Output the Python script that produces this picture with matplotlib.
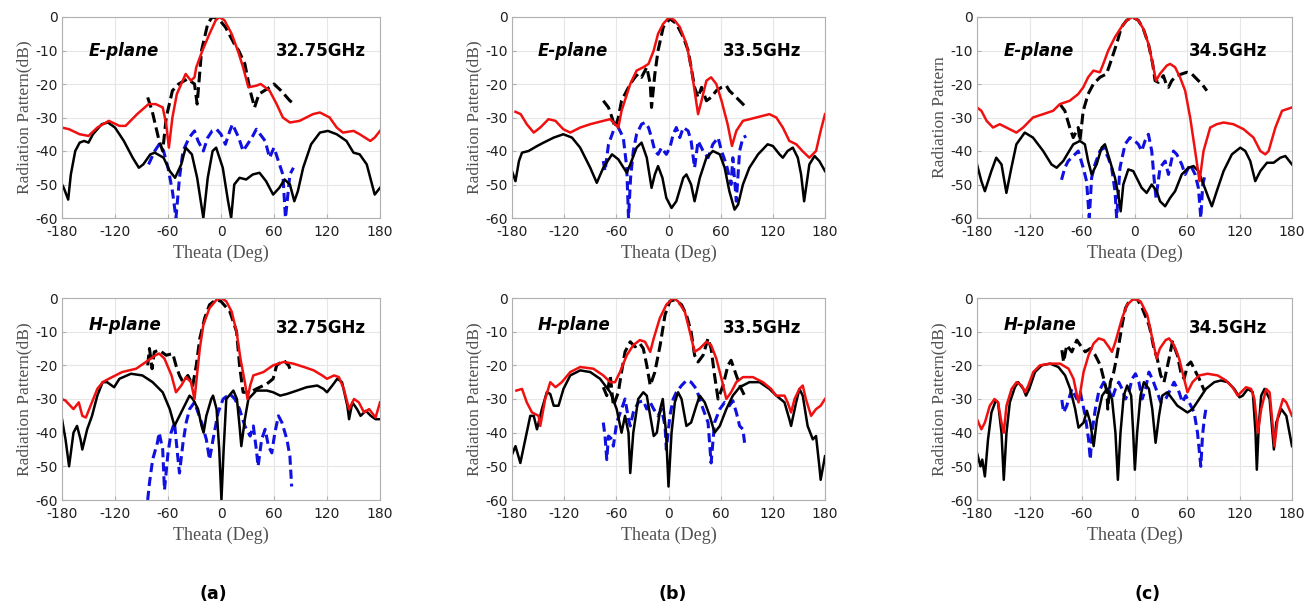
import numpy as np
import matplotlib
matplotlib.use("Agg")
from matplotlib import pyplot as plt

plt.rcParams["axes.unicode_minus"] = False

# (theta [deg], level [dB]), one list per curve
# panel (a) 32.75 GHz
a_e_red = [(-180,-33),(-172,-33.5),(-160,-35),(-150,-35.5),(-140,-33),(-127,-31),(-115,-32.5),(-108,-32.5),(-95,-29),(-82,-26),(-74,-26),(-66,-27),(-62,-32),(-59,-39),(-55,-30),(-50,-23),(-45,-20),(-40,-17),(-34,-19),(-30,-18),(-28,-15),(-21,-10),(-13,-5),(-6,-1),(-2,0),(4,-1),(12,-5),(19,-10),(25,-15),(31,-21),(40,-20.5),(45,-20),(55,-22),(63,-26),(70,-30),(78,-31.5),(89,-31),(104,-29),(112,-28.5),(123,-30),(131,-33),(138,-34.5),(150,-34),(157,-35),(169,-37),(174,-36),(180,-34)]
a_e_blk = [(-180,-50),(-178,-51),(-173,-54.5),(-170,-47),(-165,-40),(-160,-37.5),(-155,-37),(-150,-37.5),(-145,-35),(-135,-32),(-128,-31.5),(-120,-33),(-110,-37),(-100,-42),(-93,-45),(-88,-44),(-80,-41),(-75,-40.5),(-65,-42),(-58,-46),(-52,-48),(-45,-44),(-40,-39),(-33,-41),(-27,-48),(-20,-60),(-15,-48),(-9.5,-40),(-5.5,-39),(2,-45),(8,-55),(11.5,-60),(15,-50),(21,-48),(28.5,-48.5),(36,-47),(43.6,-46.5),(51,-49),(59,-53),(66,-51),(72,-48.5),(78,-50),(83,-55),(87,-52),(93,-45),(102,-38),(112,-34.5),(121,-34),(131,-35),(142,-37),(150,-40.5),(157,-41),(165,-44),(171,-50),(174,-53),(180,-51)]
a_e_dash = [(-83,-24),(-78,-28),(-70,-37),(-66,-40),(-62,-30),(-55,-22),(-48,-20),(-38,-18.5),(-30,-20),(-27,-26),(-22,-10),(-15,-2),(-10,0),(-3,-0.5),(5,-3),(15,-8),(20,-10),(27,-14),(33,-22),(38,-27),(43,-23),(55,-21),(60,-20),(68,-22),(78,-25),(83,-26)]
a_e_blue = [(-82,-44),(-75,-40),(-70,-38),(-65,-40),(-60,-45),(-55,-52),(-51,-60),(-47,-48),(-43,-40),(-36,-36),(-30,-34),(-26,-37),(-20,-40),(-15,-36),(-10,-34),(-5,-33.5),(0,-35),(5,-38),(10,-34),(13,-32),(20,-36),(25,-40),(30,-38),(35,-36),(40,-33.5),(50,-37),(55,-42),(60,-39),(65,-43),(70,-47),(73,-60),(78,-47),(82,-45)]

a_h_red = [(-180,-30),(-176,-30.5),(-167,-33),(-161,-31),(-157,-35),(-153,-35.5),(-140,-27),(-134,-25),(-127,-24),(-112,-22),(-96,-21),(-85,-19),(-74,-17),(-70,-16.5),(-64,-18),(-56,-23),(-51,-28),(-45,-26),(-39.5,-23.5),(-34,-25),(-30,-30),(-28,-25),(-24,-15),(-20,-8),(-13,-3),(-5,-0.5),(0.5,0),(6,-1),(12,-4),(17.6,-10),(22,-18),(27,-25),(30,-30),(33,-26),(36.6,-23),(48,-22),(59,-20),(71,-19),(82,-19.5),(94,-20.5),(105,-21.5),(114.5,-23),(120,-24),(128,-23),(133.5,-23.5),(139,-27),(145,-33),(150.6,-30),(156,-31),(162,-34),(167.7,-33),(175,-35.5),(180,-31)]
a_h_blk = [(-180,-36),(-176,-42),(-172,-50),(-167,-40),(-163,-38),(-159,-42),(-157,-45),(-151.5,-39),(-146,-35),(-140,-29),(-134,-25),(-129,-25),(-121,-26.5),(-115,-24),(-102,-22.5),(-89,-23),(-77.4,-25),(-66,-28),(-58,-33),(-52.7,-38),(-47,-35),(-39.4,-31),(-35.6,-29),(-31.8,-30),(-26,-33),(-22,-38),(-19.7,-40),(-16.6,-35),(-11,-30),(-9,-29),(-5,-33),(-2,-45),(0.5,-60),(3,-45),(6,-30),(14,-27.5),(18,-30),(21,-38),(23,-44),(27,-36),(31,-30),(40,-27.5),(52,-27.5),(59,-28),(67,-29),(74.6,-28.5),(86,-27.5),(97,-26.5),(109,-26),(116,-27),(120,-28),(126,-26),(131.6,-24),(137,-25),(143,-32),(145,-36),(148.7,-31),(154,-33),(158,-35),(164,-33.5),(169.6,-35),(175,-36),(180,-36)]
a_h_dash = [(-83,-20),(-81,-15),(-78,-21),(-75.5,-16),(-70,-15.5),(-62,-17),(-54.6,-16.5),(-51,-20),(-47,-23),(-43,-25),(-37.5,-23),(-32,-26),(-28,-20),(-24,-12),(-18.5,-6),(-13,-2),(-5.6,-0.5),(0,-1),(10,-4),(17.6,-10),(21,-20),(25,-28),(33,-28),(40,-27),(48,-26),(52,-25.5),(59,-24),(63,-20),(71,-18.5),(76.5,-20),(78,-21)]
a_h_blue = [(-83,-60),(-81,-55),(-77.4,-48),(-72,-43),(-70,-40),(-66,-45),(-64,-57),(-60,-46),(-56.5,-40),(-52.7,-37),(-49,-47),(-47,-52),(-43,-43),(-39.4,-37),(-35.6,-33),(-30,-31),(-26,-34),(-22,-37),(-16.6,-42),(-13,-48),(-9,-42),(-3.3,-34),(2.4,-30),(10,-28.5),(15.7,-30),(21,-33),(27,-38),(33,-41),(36.6,-38),(40,-45),(42,-50),(46,-42),(50,-39),(53.7,-44),(57.5,-46),(61,-40),(65,-35),(69,-37),(74.6,-42),(78,-47),(80,-56)]

# panel (b) 33.5 GHz
b_e_red = [(-176,-28.3),(-170,-29),(-163,-32),(-155,-34.5),(-147.5,-33),(-138,-30.5),(-130,-31),(-121,-33.5),(-113,-34.5),(-101.6,-33),(-90,-32),(-75,-31),(-67,-30.5),(-61.5,-32),(-57.7,-33),(-54,-28),(-44,-20),(-36.7,-16),(-29,-15),(-23,-14),(-17,-10),(-12,-5),(-6,-2),(1,0),(7,-1),(13,-3),(20.6,-8),(26,-15),(30,-22),(34,-29),(38,-25),(43.6,-19),(49,-18),(55,-20),(61,-25),(68,-32),(73,-38.5),(78,-34),(85.6,-31),(101,-30),(116,-29),(124,-30),(131.5,-33),(139,-37),(147,-38),(154,-40),(162,-42),(169.7,-40),(175,-34),(180,-29)]
b_e_blk = [(-180,-46),(-176,-49),(-172,-43),(-168.5,-40.5),(-161,-40),(-151,-38.5),(-143.7,-37.5),(-132,-36),(-121,-35),(-111,-36),(-101.6,-39),(-90,-45),(-82.5,-49.5),(-75,-45),(-65,-41),(-57.7,-42.5),(-48,-46.5),(-44,-44),(-36.7,-39),(-31,-37.5),(-25,-42),(-19.5,-51),(-15.7,-47),(-12,-44.5),(-7,-48),(-2.5,-54),(3.5,-57),(9,-55),(17,-48),(20.6,-47),(26,-50),(30,-55),(36,-48),(43.6,-42),(51,-40),(59,-41),(64.6,-45),(70,-52),(76,-57.5),(80,-56),(85.6,-50),(93,-45),(103,-41),(114,-38),(120,-38.5),(127.7,-41),(131.5,-42),(137,-40),(143,-39),(148.7,-42),(152.5,-47),(156,-55),(162,-44),(168,-41.5),(173.5,-43),(180,-46)]
b_e_dash = [(-75,-25),(-69,-27),(-65,-30),(-61.5,-33),(-57.7,-30),(-54,-25),(-48,-22),(-44,-20),(-38.6,-18),(-35,-17),(-31,-18),(-25,-15),(-21,-20),(-19.5,-27),(-15.7,-17),(-12,-10),(-6,-3),(1.6,-0.5),(9,-2),(17,-6),(22.6,-10),(26,-15),(30,-21),(34,-24),(38,-21),(43.6,-25),(49,-24),(55,-22),(61,-21),(66.5,-20.5),(70,-22),(78,-24),(87.5,-26.5)]
b_e_blue = [(-75,-43),(-73,-46),(-69,-38),(-63.4,-34),(-57.7,-33),(-52,-36),(-48,-45),(-46,-60),(-43.6,-48),(-40.5,-40),(-36.7,-35),(-31,-32),(-27,-31.5),(-23,-33),(-19.5,-36),(-15.7,-40),(-12,-41),(-8,-39),(-2.5,-41),(1.6,-39),(5.4,-35),(9,-33),(13,-36),(17,-33),(22.6,-34),(26,-37),(30,-45),(34,-37),(39.8,-40),(45.5,-42),(51,-38),(57,-36),(61,-40),(66.5,-44),(72,-50),(74,-42),(78,-55),(81.8,-40),(85.6,-36),(89.5,-35.5)]

b_h_red = [(-175,-27.5),(-168.5,-27),(-163,-31),(-157,-34),(-149.4,-35),(-147.5,-38),(-141.8,-30),(-136,-25),(-130,-26.5),(-122.7,-25),(-113,-22),(-101.6,-20.5),(-86.4,-21),(-75,-23),(-67,-25),(-61.5,-25),(-55.8,-22),(-48,-17),(-40.5,-14),(-33,-12.5),(-27,-13),(-21,-16),(-17,-12),(-10,-6),(-2.5,-2),(5.4,0),(11,-1),(18.7,-4),(24.5,-10),(30,-16),(36,-15),(43.6,-13),(49,-14),(55,-18),(61,-24),(66.5,-30),(72,-28),(78,-25),(85.6,-23.5),(97,-23.5),(108.6,-25),(118,-27),(123.8,-29),(133.4,-29),(137,-31),(141,-34),(145,-30),(150.6,-27),(154.4,-26),(158,-30),(164,-35),(169.7,-33),(175,-32),(180,-30)]
b_h_blk = [(-180,-46.5),(-176,-44),(-170.4,-49),(-164.7,-42),(-159,-35),(-155,-35),(-151.3,-39),(-145.6,-33),(-140,-28),(-136,-28.5),(-132,-32),(-126.5,-32),(-120.8,-27),(-113,-23),(-101.6,-21.5),(-90,-22),(-78.7,-24),(-67,-28),(-59.6,-33),(-54,-40),(-50,-35),(-46,-40),(-44,-52),(-40.5,-40),(-34.8,-30),(-29,-28),(-25,-29),(-21,-35),(-17,-41),(-13.4,-40),(-9.6,-33),(-6.6,-30),(-2.8,-40),(0,-56),(3.5,-40),(7.3,-31),(11,-28),(15,-30),(20.6,-38),(26,-37),(32,-32),(36,-29),(41.7,-31),(47.4,-35),(53,-40),(59,-38),(66.5,-33),(74,-29),(81.8,-26.5),(93,-25),(104.7,-25),(116,-27),(124,-29),(133.4,-31),(139,-36),(141,-38),(146.8,-31),(150.6,-27),(154.4,-29),(160,-38),(166,-42),(169.7,-41),(173.5,-50),(175,-54),(180,-47)]
b_h_dash = [(-75,-26.5),(-71,-29),(-67,-23),(-63.4,-32),(-57.7,-28),(-54,-22),(-50,-16),(-44,-13),(-38.6,-14.5),(-33,-13.5),(-29,-15),(-25,-20),(-21,-26),(-15.7,-22),(-9.6,-14),(-4,-5),(1.5,-1),(7.3,-0.5),(15,-2),(20.6,-5),(26,-10),(30,-17),(34,-19),(39.8,-17),(45.5,-12),(49,-15),(53,-23),(57,-30),(62.7,-26),(68.4,-20),(72,-18.5),(78,-23),(83.7,-27),(89.4,-30)]
b_h_blue = [(-75,-37),(-73,-41),(-71,-48),(-69,-41),(-65,-42),(-63.4,-44),(-59.6,-37),(-54,-33),(-50,-30),(-46,-36),(-44,-38),(-40.5,-34),(-34.8,-31),(-29,-30.5),(-25,-33),(-21,-31),(-17,-33),(-12,-35),(-8,-33),(-4,-38),(-2.5,-45),(1.6,-35),(5.4,-30),(9,-28),(15,-26),(20.6,-24.5),(26,-25),(32,-27),(39.8,-33),(45.5,-37),(49,-49),(53,-37),(59,-33),(64.6,-31),(70,-32),(74,-30.5),(78,-34),(81.8,-38),(85.6,-39),(87.5,-43)]

# panel (c) 34.5 GHz
c_e_red = [(-180,-27),(-175,-28),(-169,-31),(-161.7,-33),(-154,-32),(-146.4,-33),(-135,-34.5),(-127.3,-33),(-116,-30),(-104.4,-29),(-93,-28),(-85.3,-26),(-74,-25),(-64.3,-23),(-58.6,-21),(-53,-18),(-47,-16),(-39.5,-16.5),(-35.7,-14),(-30,-10),(-22.3,-6),(-14.9,-3),(-9,-1),(-2.3,0),(4.4,-1),(10,-3.5),(15.9,-8),(20.8,-14),(24.6,-19),(29,-17),(36.9,-14.5),(40.7,-14),(46.4,-15),(52,-18),(57.9,-22),(63.6,-30),(69.3,-40),(74.3,-49),(78.9,-40),(86.5,-33),(94,-32),(101.8,-31.5),(113,-32),(124.7,-33.5),(136,-36),(143.8,-40),(149.5,-41),(153.3,-40),(161,-33),(168.6,-28),(180,-27)]
c_e_blk = [(-180,-44),(-175,-49),(-171,-52),(-163.6,-46),(-158,-42),(-152,-44),(-146.4,-52.5),(-140.7,-45),(-135,-38),(-125.4,-34.5),(-116,-36),(-104.4,-40),(-94.9,-44),(-89,-45),(-81.5,-43),(-70,-38),(-62.4,-37),(-56.7,-38),(-53,-43),(-49,-47),(-43.3,-44),(-37.6,-39),(-33.8,-38),(-28,-43),(-22.3,-48),(-18.5,-53),(-15.8,-58),(-12.8,-50),(-7.1,-45.5),(-1.4,-46),(2.4,-48),(8.2,-51),(13.9,-52.5),(19.7,-50),(25.4,-52),(29.2,-55),(35,-56.5),(40.7,-54),(46.4,-52),(54,-47),(61.7,-45),(67.4,-44.5),(73,-46),(78.9,-50),(84.6,-54),(88.4,-56.5),(94,-52),(101.8,-46),(111.3,-41),(120.9,-39),(126.6,-40),(132.3,-43),(138,-49),(143.8,-46),(151.4,-43.5),(159,-43.5),(166.7,-42),(172.4,-41.5),(180,-44)]
c_e_dash = [(-85.3,-26),(-79.6,-28),(-74,-33),(-70,-36),(-64.3,-33),(-62.4,-37),(-58.6,-28),(-53,-23),(-47,-20),(-39.5,-18),(-32,-17),(-28,-14),(-20.4,-8),(-14.9,-3),(-9,-1),(-2.3,0),(4.4,-1),(10,-3.5),(15.9,-8),(20.8,-14),(23.5,-19),(27.3,-19.5),(33,-17.5),(36.9,-20.5),(38.8,-21),(42.6,-19),(48.3,-17.5),(54,-17),(59.8,-16.5),(65.5,-17),(73,-19),(77,-20),(82.7,-22)]
c_e_blue = [(-83.4,-48.6),(-79.6,-45),(-75.8,-43),(-68,-41),(-64.3,-40),(-58.6,-45),(-54.8,-49),(-51.7,-60),(-49,-48),(-45.2,-44),(-39.5,-40),(-35.7,-39),(-30,-42),(-26.1,-45),(-22.3,-52),(-20.4,-60),(-16.6,-45),(-10.8,-38),(-5.3,-36),(0.4,-37),(4.4,-38),(8.2,-40),(12,-37),(15.9,-35),(19.7,-40),(22.3,-48),(24.6,-54),(29.2,-45),(35,-43),(38.8,-47),(44.5,-40),(48.3,-41),(54,-44),(57.9,-47),(63.6,-44),(69.3,-47),(73,-51),(75.8,-60),(78,-50),(80.8,-47)]

c_h_red = [(-180,-36),(-175,-39),(-171,-37),(-165.4,-32),(-160,-30),(-156,-31),(-152,-37),(-149.4,-40),(-146.3,-32),(-140.5,-27),(-134.8,-25),(-129,-26),(-125,-28),(-121.4,-26),(-115.7,-22),(-108,-20),(-96.5,-19.5),(-85,-19.5),(-75.4,-21),(-69.7,-24),(-64,-31),(-62,-28),(-58.2,-22),(-52.5,-17),(-46.7,-13.5),(-41,-12),(-35,-12.5),(-29.5,-14.5),(-25.7,-16),(-21.8,-13),(-14.2,-6),(-8.5,-2),(-0.8,-0.2),(6.9,-1),(14.6,-5),(20.3,-12),(25.3,-18),(29,-15),(35.6,-12.5),(39.5,-12),(45.2,-14),(51,-18),(56.7,-24),(60.5,-28),(66.3,-25),(74,-23),(83.5,-22.5),(95,-23),(104.6,-24.5),(112,-26.5),(118,-29),(121.8,-28),(127.5,-26.5),(133.3,-27),(137,-30),(141,-40),(144.8,-33),(150.5,-27),(154.4,-28),(158,-38),(160,-44),(164,-35),(169.7,-30),(173.5,-31),(180,-35)]
c_h_blk = [(-180,-46),(-178,-48),(-176,-50),(-174,-48),(-171,-53),(-167.4,-42),(-163.5,-34),(-158.6,-30.5),(-156,-31),(-152,-40),(-149.4,-54),(-146.3,-40),(-142.5,-31),(-136.7,-26.5),(-133,-25),(-127,-27),(-124,-29),(-120.3,-27),(-113.7,-22),(-106,-20),(-96.5,-19.5),(-87,-20.5),(-79.3,-23),(-73.5,-27),(-67.8,-33),(-64,-38.5),(-58.2,-37),(-54.4,-33.5),(-50.5,-37),(-46.7,-44),(-42.9,-36),(-37,-29),(-31.4,-27),(-25.7,-30),(-21.8,-40),(-19,-54),(-16,-40),(-12.3,-29),(-8.4,-26),(-3.8,-29),(-1.5,-40),(0.4,-51),(3,-40),(6.9,-29),(10.7,-25),(16.5,-27),(20.3,-33),(24.1,-43),(28,-35),(31.8,-29),(37.5,-28),(43.3,-30),(49,-32),(54.8,-33),(60.5,-34),(66.3,-33),(74,-30),(81.6,-27),(91.2,-25),(98.8,-24.5),(106.5,-25),(114,-27),(120,-29.5),(123.7,-29),(129.5,-27),(135.2,-28),(138.3,-40),(139.8,-51),(142,-38),(144.8,-29),(148.6,-27),(154.4,-30),(157,-38),(159.3,-45),(162,-37),(167.8,-33),(173.5,-35),(180,-44)]
c_h_dash = [(-83,-15.5),(-81,-19),(-77.4,-14),(-71.6,-16),(-65.9,-12.5),(-62,-14),(-56.3,-16),(-50.5,-15),(-44.8,-17),(-39,-20),(-35.2,-24),(-31.4,-28),(-30.6,-33),(-27.6,-25),(-23.7,-22),(-19.9,-17),(-14.2,-8),(-10.3,-3),(-4.6,-0.3),(3,-0.3),(8.8,-3),(16.5,-8),(18.4,-10),(22.2,-15),(26,-18),(30,-23),(33.7,-25),(39.5,-18),(43.3,-13),(49,-17),(52.9,-22),(56.7,-24),(60.5,-20),(64.4,-19),(70,-22),(74,-24),(79.7,-27.5)]
c_h_blue = [(-83,-30.3),(-81,-34),(-77.4,-32),(-71.6,-27),(-65.9,-30),(-62,-28),(-56.3,-35),(-52.5,-42),(-50.5,-48),(-48.6,-40),(-44.8,-33),(-41,-28),(-35.2,-25),(-29.5,-27),(-25.7,-30),(-21.8,-27),(-18,-25),(-14.2,-27),(-10.3,-30),(-6.5,-28),(-2.7,-24),(1.1,-22.5),(5,-25),(8.8,-30),(12.6,-27),(16.5,-22),(20.3,-24),(26,-28),(30,-31),(35.6,-30),(41.4,-27),(45.2,-25),(51,-28),(54.8,-31),(58.6,-29),(64.4,-32),(68.2,-34),(72,-40),(75.8,-50),(77.7,-41),(79.7,-36),(81.6,-33)]

freqs = ["32.75GHz", "33.5GHz", "34.5GHz"]
panel_tags = ["(a)", "(b)", "(c)"]
xticks = [-180, -120, -60, 0, 60, 120, 180]
yticks = [-60, -50, -40, -30, -20, -10, 0]

panels = [
    [(a_e_red, a_e_blk, a_e_dash, a_e_blue), (a_h_red, a_h_blk, a_h_dash, a_h_blue)],
    [(b_e_red, b_e_blk, b_e_dash, b_e_blue), (b_h_red, b_h_blk, b_h_dash, b_h_blue)],
    [(c_e_red, c_e_blk, c_e_dash, c_e_blue), (c_h_red, c_h_blk, c_h_dash, c_h_blue)],
]

# axes boxes in pixels (left, right) per column, (top, bottom) per row
col_px = [(62, 380), (512, 825), (977, 1292)]
row_px = [(17, 218), (298, 500)]
W, H = 1307, 605

fig = plt.figure(figsize=(13.07, 6.05), dpi=100)


def draw(ax, curves):
    red, blk, dash, blue = [np.array(c) for c in curves]
    ax.plot(blue[:, 0], blue[:, 1], color="#1010e0", lw=2.2, ls=(0, (3, 1.6)))
    ax.plot(dash[:, 0], dash[:, 1], color="black", lw=2.2, ls=(0, (3.5, 1.6)))
    ax.plot(blk[:, 0], blk[:, 1], color="black", lw=1.8)
    ax.plot(red[:, 0], red[:, 1], color="#f01010", lw=1.8)


for ci in range(3):
    for ri in range(2):
        l, r = col_px[ci]
        t, b = row_px[ri]
        ax = fig.add_axes([l / W, 1 - b / H, (r - l) / W, (b - t) / H])
        draw(ax, panels[ci][ri])
        ax.set_xlim(-180, 180)
        ax.set_ylim(-60, 0)
        ax.set_xticks(xticks)
        ax.set_yticks(yticks)
        ax.grid(True, color="#e6e6e6", lw=0.8)
        ax.set_axisbelow(True)
        for s in ax.spines.values():
            s.set_color("#b0b0b0")
            s.set_linewidth(0.8)
        ax.tick_params(direction="in", length=3, color="#b0b0b0",
                       labelsize=10, labelcolor="#202020")
        ax.tick_params(axis="x", pad=5)
        ax.tick_params(axis="y", pad=3)
        ax.set_xlabel("Theata (Deg)", family="Liberation Serif", fontsize=13,
                      color="#505050", labelpad=4)
        ylab = "Radiation Pattern" if (ci == 2 and ri == 0) else "Radiation Pattern(dB)"
        ax.set_ylabel(ylab, family="Liberation Serif", fontsize=12.5,
                      color="#505050", labelpad=2)
        plane = "E-plane" if ri == 0 else "H-plane"
        ax.text(-150, -10 if ri == 0 else -8, plane, fontsize=12,
                fontweight="bold", fontstyle="italic", va="center", ha="left")
        ax.text(62, -10 if ri == 0 else -9, freqs[ci], fontsize=12,
                fontweight="bold", va="center", ha="left")

tag_x = [213, 673, 1148]
for tx, tag in zip(tag_x, panel_tags):
    fig.text(tx / W, 1 - 594 / H, tag, fontsize=12.5, fontweight="bold",
             ha="center", va="center")

fig.savefig("out.png", dpi=100)
